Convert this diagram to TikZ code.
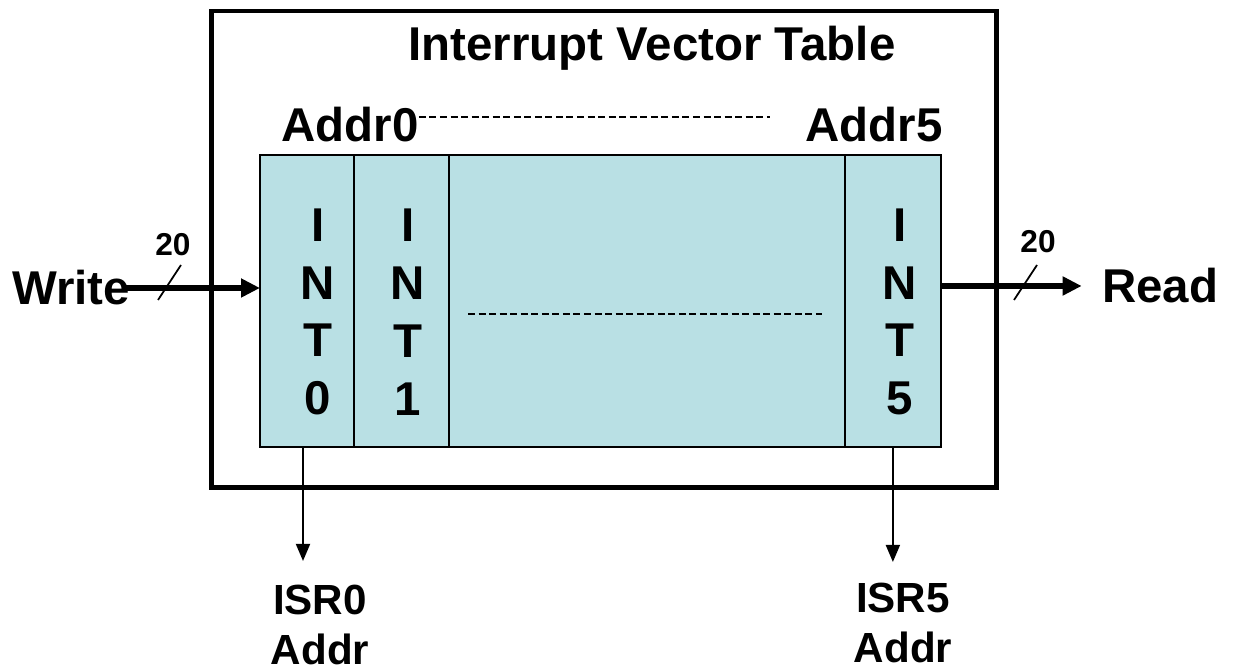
\documentclass[tikz,border=0pt]{standalone}
\usepackage{fontspec}
\setmainfont{Liberation Sans}
\usetikzlibrary{arrows.meta, positioning, calc}

\definecolor{tablefill}{RGB}{185,224,228}

\tikzset{
  lbl/.style={font=\bfseries\fontsize{27}{33}\selectfont, inner sep=0pt},
  small/.style={font=\bfseries\fontsize{18}{22}\selectfont, inner sep=0pt},
  isr/.style={font=\bfseries\fontsize{24}{28.5}\selectfont, inner sep=0pt, align=center},
  intcol/.style={lbl, align=center, font=\bfseries\fontsize{27}{32.9}\selectfont},
  cell/.style={draw, line width=0.8pt, fill=tablefill, minimum height=5.84cm, inner sep=0pt, outer sep=0pt},
  bus/.style={line width=3.2pt, -{Triangle[length=0.38cm, width=0.36cm]}},
  sig/.style={line width=1.1pt, -{Triangle[length=0.34cm, width=0.28cm]}},
  dots/.style={line width=0.6pt, dash pattern=on 4pt off 2pt}
}

\begin{document}
\begin{tikzpicture}[x=0.02cm, y=-0.02cm]
\useasboundingbox (0,0) rectangle (1233,671);

% outer block
\node[draw, line width=2.8pt, minimum width=15.72cm, minimum height=9.54cm, inner sep=0pt] (ivt) at (604,249.5) {};
\node[lbl] (title) at (652,48) {Interrupt Vector Table};
\node[lbl] (addr0) at (350,125) {Addr0};
\node[lbl] (addr5) at (874,125) {Addr5};
\coordinate (addrend) at (770,117);
\draw[dots] (addr0.east |- addrend) -- (addrend);

% table cells
\node[cell, minimum width=1.88cm, anchor=north west] (cell0) at (260,155) {};
\node[cell, minimum width=1.9cm, right=0pt of cell0] (cell1) {};
\node[cell, minimum width=7.92cm, right=0pt of cell1] (cellmid) {};
\node[cell, minimum width=1.92cm, right=0pt of cellmid] (cell5) {};
\node[intcol] (int0) at (318,312) {I\\N\\T\\0};
\node[intcol] (int1) at (408,312) {I\\N\\T\\1};
\node[intcol] (int5) at (900,312) {I\\N\\T\\5};
\coordinate (midl) at (468,314);
\coordinate (midr) at (822,314);
\draw[dots] (midl) -- (midr);

% write side
\node[lbl] (write) at (71,288) {Write};
\draw[bus] ([xshift=-0.1cm]write.east) -- (write.east -| cell0.west);
\draw[line width=1pt] (158,300) -- (181,265);
\node[small] (wbits) at (173,245) {20};

% read side
\node[lbl] (read) at (1160,286) {Read};
\draw[bus] (cell5.east |- read.west) -- ([xshift=-0.4cm]read.west);
\draw[line width=1pt] (1014,300) -- (1037,265);
\node[small] (rbits) at (1038,242) {20};

% outputs
\node[isr] (isr0) at (320,625) {ISR0\\Addr};
\node[isr] (isr5) at (903,623) {ISR5\\Addr};
\draw[sig] ([xshift=-0.08cm]cell0.south) -- ++(0,114);
\draw[sig] (cell5.south) -- ++(0,115);
\end{tikzpicture}
\end{document}
